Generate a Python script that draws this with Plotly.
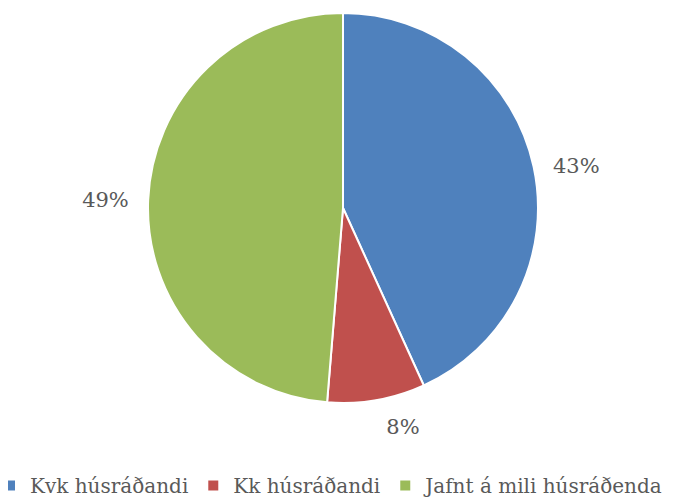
import plotly.graph_objects as go

labels = ["Kvk húsráðandi", "Kk húsráðandi", "Jafnt á mili húsráðenda"]
values = [43.2, 8.1, 48.7]
colors = ["#4F81BD", "#C0504D", "#9BBB59"]

# the page body adds an 8px offset, so positions below are in figure pixels
W, H = 688, 497
MB = 48
PH = H - MB
FONT = "DejaVu Serif"
TXT = "#595959"
NB = "\u00a0"

fig = go.Figure(go.Pie(
    labels=labels,
    values=values,
    sort=False,
    direction="clockwise",
    rotation=0,
    marker=dict(colors=colors, line=dict(color="white", width=2)),
    textposition="outside",
    texttemplate=[
        NB * 2 + "%{percent:.0%}",
        "<span style='font-size:8px'>" + NB + "</span><br>%{percent:.0%}",
        "%{percent:.0%}" + NB * 2,
    ],
    textfont=dict(family=FONT, size=21, color=TXT),
    domain=dict(x=[140 / W, 530 / W], y=[(PH - 395) / PH, (PH - 5) / PH]),
    hoverinfo="label+percent",
))

fig.update_layout(
    width=W, height=H,
    margin=dict(l=0, r=0, t=0, b=MB, autoexpand=False),
    paper_bgcolor="white",
    plot_bgcolor="white",
    font=dict(family=FONT, size=21, color=TXT),
    showlegend=True,
    legend=dict(
        orientation="h",
        x=-18 / W, xanchor="left",
        y=(PH - 458) / PH, yanchor="top",
        itemwidth=30,
        font=dict(family=FONT, size=20, color=TXT),
        bgcolor="rgba(0,0,0,0)",
    ),
)

fig.write_html("out.html")
